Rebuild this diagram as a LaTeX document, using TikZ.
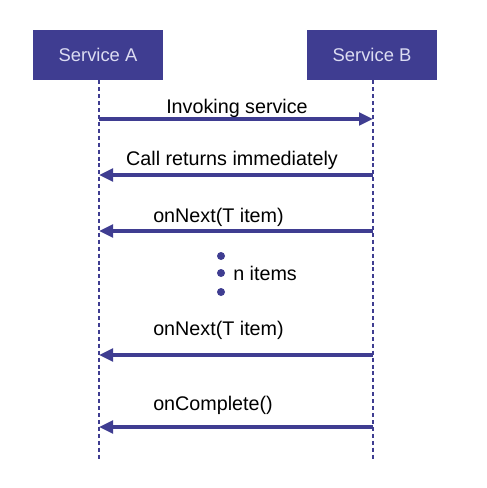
\documentclass[tikz,border=0pt]{standalone}
\usepackage{fontspec}
\setmainfont{Liberation Sans}
\usetikzlibrary{arrows.meta}
\definecolor{svcblue}{HTML}{3F3D91}
\definecolor{svctext}{HTML}{DCDCF2}

\begin{document}
\begin{tikzpicture}[x=0.75pt,y=-0.75pt,
        svc/.style={fill=svcblue, text=svctext, inner sep=0pt,
            minimum width=97.5pt, minimum height=37.5pt,
            font=\fontsize{13.8}{16}\selectfont},
        life/.style={svcblue, line width=2pt, dash pattern=on 3pt off 2.2pt},
        msg/.style={svcblue, line width=2.3pt, -{Triangle[length=10.5pt,width=9.5pt]}},
        lbl/.style={inner sep=0pt, font=\fontsize{14.8}{17}\selectfont},
        blob/.style={circle, fill=svcblue, inner sep=0pt, minimum size=6pt}]
        \useasboundingbox (0,0) rectangle (486,488);

        % the two services
        \node[svc] (svcA) at (98,55) {Service A};
        \node[svc] (svcB) at (372,55) {Service B};
        \coordinate (endA) at (99,460);
        \coordinate (endB) at (373,460);
        \draw[life] (svcA.south -| endA) -- (endA);
        \draw[life] (svcB.south -| endB) -- (endB);

        % points on the lifelines
        \foreach \n/\y in {1/119, 2/175, 3/231, 4/355, 5/427} {
            \coordinate (a\n) at (99,\y);
            \coordinate (b\n) at (373,\y);
        }

        \draw[msg] (a1) -- (b1);
        \node[lbl, anchor=base] (invoke) at (237,114) {Invoking service};
        \draw[msg] (b2) -- (a2);
        \node[lbl, anchor=base] (returns) at (232,166) {Call returns immediately};
        \draw[msg] (b3) -- (a3);
        \node[lbl, anchor=base west] (next1) at (153,222) {onNext(T item)};
        \draw[msg] (b4) -- (a4);
        \node[lbl, anchor=base west] (next2) at (153,335) {onNext(T item)};
        \draw[msg] (b5) -- (a5);
        \node[lbl, anchor=base west] (complete) at (153,410) {onComplete()};

        % n items in between
        \node[blob] (dot1) at (221,256) {};
        \node[blob] (dot2) at (221,273) {};
        \node[blob] (dot3) at (221,292) {};
        \node[lbl, anchor=west] (nitems) at (233,273) {n items};
    \end{tikzpicture}
\end{document}
